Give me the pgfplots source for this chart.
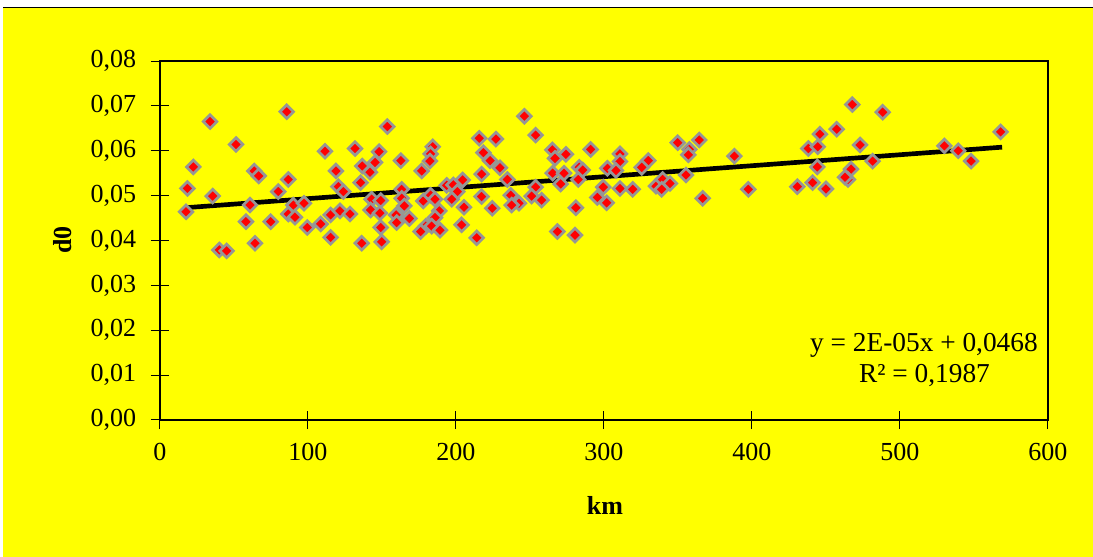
\documentclass[border=0pt]{standalone}
\usepackage{fontspec}
\setmainfont{Liberation Serif}
\usepackage{pgfplots}
\pgfplotsset{compat=1.18}
\definecolor{bgyellow}{RGB}{255,255,0}
\definecolor{mkgray}{RGB}{150,150,150}
\begin{document}
\fontsize{19.5}{23}\selectfont
\begin{tikzpicture}[x=0.75pt,y=0.75pt]
\path[use as bounding box] (0,0) rectangle (1093,557);
\fill[white] (0,0) rectangle (1093,557);
\fill[bgyellow] (3,0) rectangle (1093,549);
\draw[black, line width=0.9pt] (3,549.5) -- (1093,549.5);
\begin{axis}[
  at={(120pt,102.75pt)}, anchor=south west,
  scale only axis, width=666pt, height=269.25pt,
  xmin=0, xmax=600, ymin=0, ymax=0.08,
  xtick={0,100,200,300,400,500,600},
  ytick={0,0.01,0.02,0.03,0.04,0.05,0.06,0.07,0.08},
  xtick pos=bottom, ytick pos=left,
  tick align=center, major tick length=13.5pt,
  axis line style={line width=1.5pt},
  every tick/.style={black, line width=0.75pt},
  scaled y ticks=false,
  /pgf/number format/assume math mode=true,
  yticklabel style={xshift=-4.5pt, /pgf/number format/.cd, fixed, fixed zerofill, precision=2, use comma},
  xticklabel style={yshift=-3.75pt, /pgf/number format/.cd, fixed, precision=0},
  xlabel={\textbf{km}},
  xlabel style={at={(axis description cs:0.501,-0.237)}, anchor=center},
  ylabel={\textbf{d0}},
  ylabel style={at={(axis description cs:-0.11,0.501)}, anchor=center},
  clip=false,
]
\addplot[only marks, mark=square*, mark size=3.6pt,
  mark options={rotate=45, fill=red, draw=mkgray, line width=2pt}]
table[row sep=\\] {
x y \\
33.8 0.0665 \\ 85.6 0.0687 \\ 51.4 0.0614 \\ 22.5 0.0564 \\ 63.7 0.0555 \\
66.7 0.0544 \\ 86.7 0.0536 \\ 18.5 0.0516 \\ 79.9 0.0509 \\ 35.6 0.0499 \\
17.6 0.0464 \\ 60.8 0.0479 \\ 90.1 0.0479 \\ 97.3 0.0483 \\ 86.7 0.0459 \\
91.2 0.0452 \\ 58.1 0.0442 \\ 74.8 0.0442 \\ 99.5 0.0429 \\ 64.2 0.0394 \\
40.1 0.0379 \\ 45.0 0.0377 \\
153.6 0.0654 \\ 111.5 0.0599 \\ 131.8 0.0605 \\ 148.0 0.0598 \\ 184.3 0.0609 \\
182.9 0.0593 \\ 182.4 0.0577 \\ 162.8 0.0578 \\ 145.3 0.0574 \\ 136.7 0.0566 \\
118.9 0.0555 \\ 141.9 0.0552 \\ 176.8 0.0555 \\ 135.6 0.0529 \\ 120.5 0.0520 \\
123.9 0.0509 \\ 163.3 0.0514 \\ 193.7 0.0523 \\ 143.0 0.0492 \\ 149.1 0.0489 \\
163.3 0.0494 \\ 165.1 0.0477 \\ 177.9 0.0488 \\ 182.9 0.0501 \\ 185.8 0.0492 \\
188.7 0.0466 \\ 185.8 0.0451 \\ 115.3 0.0457 \\ 121.6 0.0466 \\ 128.4 0.0459 \\
142.3 0.0468 \\ 148.6 0.0461 \\ 159.5 0.0457 \\ 159.9 0.0440 \\ 168.5 0.0449 \\
108.6 0.0437 \\ 149.1 0.0429 \\ 179.7 0.0432 \\ 183.6 0.0432 \\ 189.2 0.0423 \\
176.1 0.0420 \\ 115.3 0.0407 \\ 136.3 0.0394 \\ 149.8 0.0397 \\
246.2 0.0677 \\ 215.7 0.0628 \\ 227.0 0.0626 \\ 253.8 0.0635 \\ 218.5 0.0596 \\
223.0 0.0578 \\ 229.7 0.0562 \\ 217.3 0.0548 \\ 234.7 0.0536 \\ 204.5 0.0535 \\
198.2 0.0524 \\ 200.9 0.0509 \\ 197.1 0.0492 \\ 217.3 0.0498 \\ 237.0 0.0501 \\
253.8 0.0519 \\ 251.1 0.0499 \\ 257.9 0.0490 \\ 242.6 0.0483 \\ 237.6 0.0479 \\
205.4 0.0474 \\ 224.5 0.0472 \\ 203.8 0.0435 \\ 214.0 0.0406 \\
265.1 0.0602 \\ 266.9 0.0583 \\ 274.3 0.0592 \\ 283.3 0.0563 \\ 285.6 0.0557 \\
291.0 0.0603 \\ 265.3 0.0550 \\ 273.0 0.0550 \\ 270.7 0.0526 \\ 282.6 0.0536 \\
281.0 0.0473 \\ 268.5 0.0420 \\ 280.4 0.0412 \\
310.8 0.0593 \\ 310.8 0.0576 \\ 349.8 0.0618 \\ 364.4 0.0624 \\ 357.7 0.0603 \\
357.0 0.0591 \\ 329.9 0.0578 \\ 325.5 0.0563 \\ 302.3 0.0561 \\ 308.1 0.0556 \\
355.4 0.0546 \\ 299.5 0.0519 \\ 310.8 0.0516 \\ 319.4 0.0514 \\ 335.1 0.0521 \\
339.6 0.0536 \\ 344.6 0.0527 \\ 339.0 0.0514 \\ 295.5 0.0496 \\ 301.8 0.0484 \\
366.7 0.0494 \\
467.8 0.0703 \\ 488.3 0.0686 \\ 457.2 0.0648 \\ 445.9 0.0637 \\ 438.1 0.0605 \\
444.4 0.0609 \\ 473.0 0.0613 \\ 388.1 0.0588 \\ 481.5 0.0577 \\ 444.1 0.0564 \\
466.9 0.0559 \\ 464.9 0.0536 \\ 462.8 0.0541 \\ 441.0 0.0529 \\ 430.6 0.0520 \\
450.0 0.0515 \\ 397.5 0.0514 \\
568.0 0.0642 \\ 530.0 0.0611 \\ 539.4 0.0600 \\ 548.0 0.0577 \\
};
\addplot[black, line width=3.5pt, no marks] coordinates {(17,0.0473) (569,0.0608)};
\node[anchor=east, inner sep=0pt, font=\fontsize{20.5}{24}\selectfont] at (rel axis cs:0.9887,0.209) {y = 2E-05x + 0,0468};
\node[anchor=center, inner sep=0pt, font=\fontsize{20.5}{24}\selectfont] at (rel axis cs:0.861,0.125) {R² = 0,1987};
\end{axis}
\end{tikzpicture}
\end{document}
